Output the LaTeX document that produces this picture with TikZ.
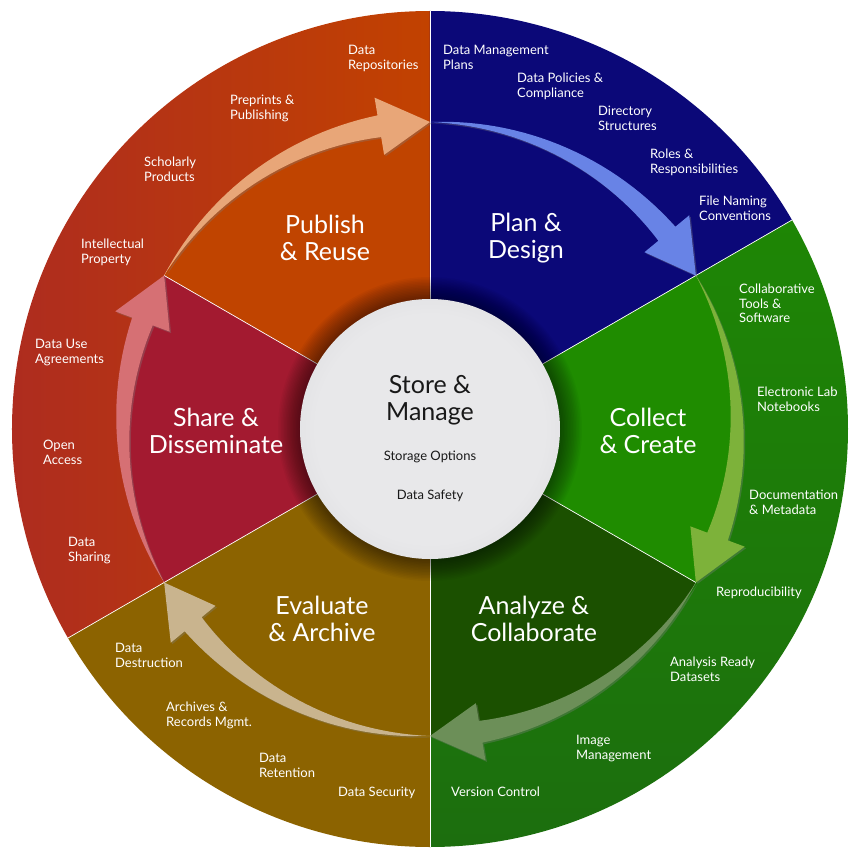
\documentclass[tikz,border=0pt]{standalone}
\usepackage{fontspec}
\setmainfont{Lato}
\usetikzlibrary{shadows}

\definecolor{publishin}{HTML}{C04400}
\definecolor{redout}{HTML}{AE2C1F}
\definecolor{redoutmid}{HTML}{B2321A}
\definecolor{orangeout}{HTML}{C24200}
\definecolor{plan}{HTML}{0B0878}
\definecolor{collectin}{HTML}{1F8C00}
\definecolor{greenouttop}{HTML}{1E8605}
\definecolor{greenoutbottom}{HTML}{1C6E0E}
\definecolor{analyzein}{HTML}{1B5000}
\definecolor{evaluate}{HTML}{8C6300}
\definecolor{sharein}{HTML}{A31A30}
\definecolor{publisharrow}{HTML}{E8A678}
\definecolor{planarrow}{HTML}{6883E6}
\definecolor{collectarrow}{HTML}{7DB23A}
\definecolor{analyzearrow}{HTML}{6C8F58}
\definecolor{evaluatearrow}{HTML}{C9B48E}
\definecolor{sharearrow}{HTML}{D67074}
\definecolor{ballmid}{HTML}{E8E8EA}
\definecolor{ballrim}{HTML}{9A9AA0}

\pgfdeclareradialshading{storeball}{\pgfpoint{0bp}{0bp}}{color(0bp)=(ballmid); color(22bp)=(ballmid); color(40bp)=(ballrim!30!ballmid); color(47bp)=(ballrim!65!ballmid); color(50bp)=(ballrim); color(72bp)=(ballrim)}

% tapered arrow on the wheel: #1 tail angle, #2 colour
\newcommand{\cyclearrow}[2]{%
  \fill[#2, drop shadow={opacity=.35, shadow xshift=1.5pt, shadow yshift=-1.5pt}]
    (#1:307pt)
    -- plot[domain=#1:#1-50.5, samples=30] (\x:{307+11*(#1-\x)/50.5})
    -- (#1-50.5:336pt) -- (#1-60:307pt) -- (#1-50.5:278pt)
    -- plot[domain=#1-50.5:#1, samples=30] (\x:{307-11*(#1-\x)/50.5})
    -- cycle;
}

\tikzset{
  stage/.style={text=white, font=\fontsize{25}{27}\selectfont, align=center, inner sep=0pt},
  topic/.style={text=white, font=\fontsize{13}{14.5}\selectfont, align=left, anchor=north west, inner sep=0pt},
  sepline/.style={white, line width=0.7pt}
}

\begin{document}
\begin{tikzpicture}[x=1pt, y=1pt]
  \useasboundingbox (-430,-431) rectangle (430,429);

  % inner sectors
  \fill[publishin] (0,0) -- (90:307pt) arc[start angle=90, end angle=150, radius=307pt] -- cycle;
  \fill[plan] (0,0) -- (30:307pt) arc[start angle=30, end angle=90, radius=307pt] -- cycle;
  \fill[collectin] (0,0) -- (-30:307pt) arc[start angle=-30, end angle=30, radius=307pt] -- cycle;
  \fill[analyzein] (0,0) -- (-90:307pt) arc[start angle=-90, end angle=-30, radius=307pt] -- cycle;
  \fill[evaluate] (0,0) -- (-150:307pt) arc[start angle=-150, end angle=-90, radius=307pt] -- cycle;
  \fill[sharein] (0,0) -- (150:307pt) arc[start angle=150, end angle=210, radius=307pt] -- cycle;

  % outer ring
  \shade[left color=redout, middle color=redoutmid, right color=orangeout] (90:307pt) -- (90:418pt) arc[start angle=90, end angle=210, radius=418pt] -- (210:307pt) arc[start angle=210, end angle=90, radius=307pt] -- cycle;
  \fill[plan] (30:307pt) -- (30:418pt) arc[start angle=30, end angle=90, radius=418pt] -- (90:307pt) arc[start angle=90, end angle=30, radius=307pt] -- cycle;
  \shade[top color=greenouttop, bottom color=greenoutbottom] (-90:307pt) -- (-90:418pt) arc[start angle=-90, end angle=30, radius=418pt] -- (30:307pt) arc[start angle=30, end angle=-90, radius=307pt] -- cycle;
  \fill[evaluate] (-150:307pt) -- (-150:418pt) arc[start angle=-150, end angle=-90, radius=418pt] -- (-90:307pt) arc[start angle=-90, end angle=-150, radius=307pt] -- cycle;

  % dividing lines
  \draw[sepline] (90:130pt) -- (90:418pt);
  \draw[sepline] (30:130pt) -- (30:418pt);
  \draw[sepline] (-30:130pt) -- (-30:307pt);
  \draw[sepline] (-90:130pt) -- (-90:418pt);
  \draw[sepline] (210:130pt) -- (210:418pt);
  \draw[sepline] (150:130pt) -- (150:307pt);

  % arrows
  \cyclearrow{150}{publisharrow}
  \cyclearrow{90}{planarrow}
  \cyclearrow{30}{collectarrow}
  \cyclearrow{-30}{analyzearrow}
  \cyclearrow{-90}{evaluatearrow}
  \cyclearrow{210}{sharearrow}

  % centre
  \foreach \r in {131,132.5,...,152}
    \fill[black, opacity=.035] (0,0) circle[radius=\r pt];
  \shade[shading=storeball] (0,0) circle[radius=130pt];

  \node[text=black!90, font=\fontsize{25}{27}\selectfont, align=center, inner sep=0pt] (store) at (0,29) {Store \&\\Manage};
  \node[text=black!90, font=\fontsize{13}{14.5}\selectfont, inner sep=0pt] (storage) at (0,-28) {Storage Options};
  \node[text=black!90, font=\fontsize{13}{14.5}\selectfont, inner sep=0pt] (safety) at (0,-67) {Data Safety};

  % stages
  \node[stage] (publish) at (-105,191) {Publish\\\& Reuse};
  \node[stage] (planning) at (96,191) {Plan \&\\Design};
  \node[stage] (collect) at (218,-2) {Collect\\\& Create};
  \node[stage] (analyze) at (104,-190) {Analyze \&\\Collaborate};
  \node[stage] (archive) at (-108,-190) {Evaluate\\\& Archive};
  \node[stage] (share) at (-214,-2) {Share \&\\Disseminate};

  % topics
  \node[topic] (repos) at (-82,384) {Data\\Repositories};
  \node[topic] (preprints) at (-200,334) {Preprints \&\\Publishing};
  \node[topic] (scholarly) at (-286,272) {Scholarly\\Products};
  \node[topic] (ip) at (-349,190) {Intellectual\\Property};
  \node[topic] (dua) at (-395,90) {Data Use\\Agreements};
  \node[topic] (open) at (-387,-11) {Open\\Access};
  \node[topic] (sharing) at (-362,-108) {Data\\Sharing};
  \node[topic] (destroy) at (-315,-214) {Data\\Destruction};
  \node[topic] (records) at (-264,-273) {Archives \&\\Records Mgmt.};
  \node[topic] (retention) at (-171,-324) {Data\\Retention};
  \node[topic] (security) at (-92,-358) {Data Security};
  \node[topic] (dmp) at (13,384) {Data Management\\Plans};
  \node[topic] (policies) at (87,356) {Data Policies \&\\Compliance};
  \node[topic] (dirs) at (168,323) {Directory\\Structures};
  \node[topic] (roles) at (220,280) {Roles \&\\Responsibilities};
  \node[topic] (naming) at (269,233) {File Naming\\Conventions};
  \node[topic] (tools) at (309,145) {Collaborative\\Tools \&\\Software};
  \node[topic] (eln) at (327,42) {Electronic Lab\\Notebooks};
  \node[topic] (docs) at (319,-61) {Documentation\\\& Metadata};
  \node[topic] (repro) at (286,-158) {Reproducibility};
  \node[topic] (ard) at (240,-228) {Analysis Ready\\Datasets};
  \node[topic] (images) at (146,-306) {Image\\Management};
  \node[topic] (versions) at (21,-358) {Version Control};
\end{tikzpicture}
\end{document}
